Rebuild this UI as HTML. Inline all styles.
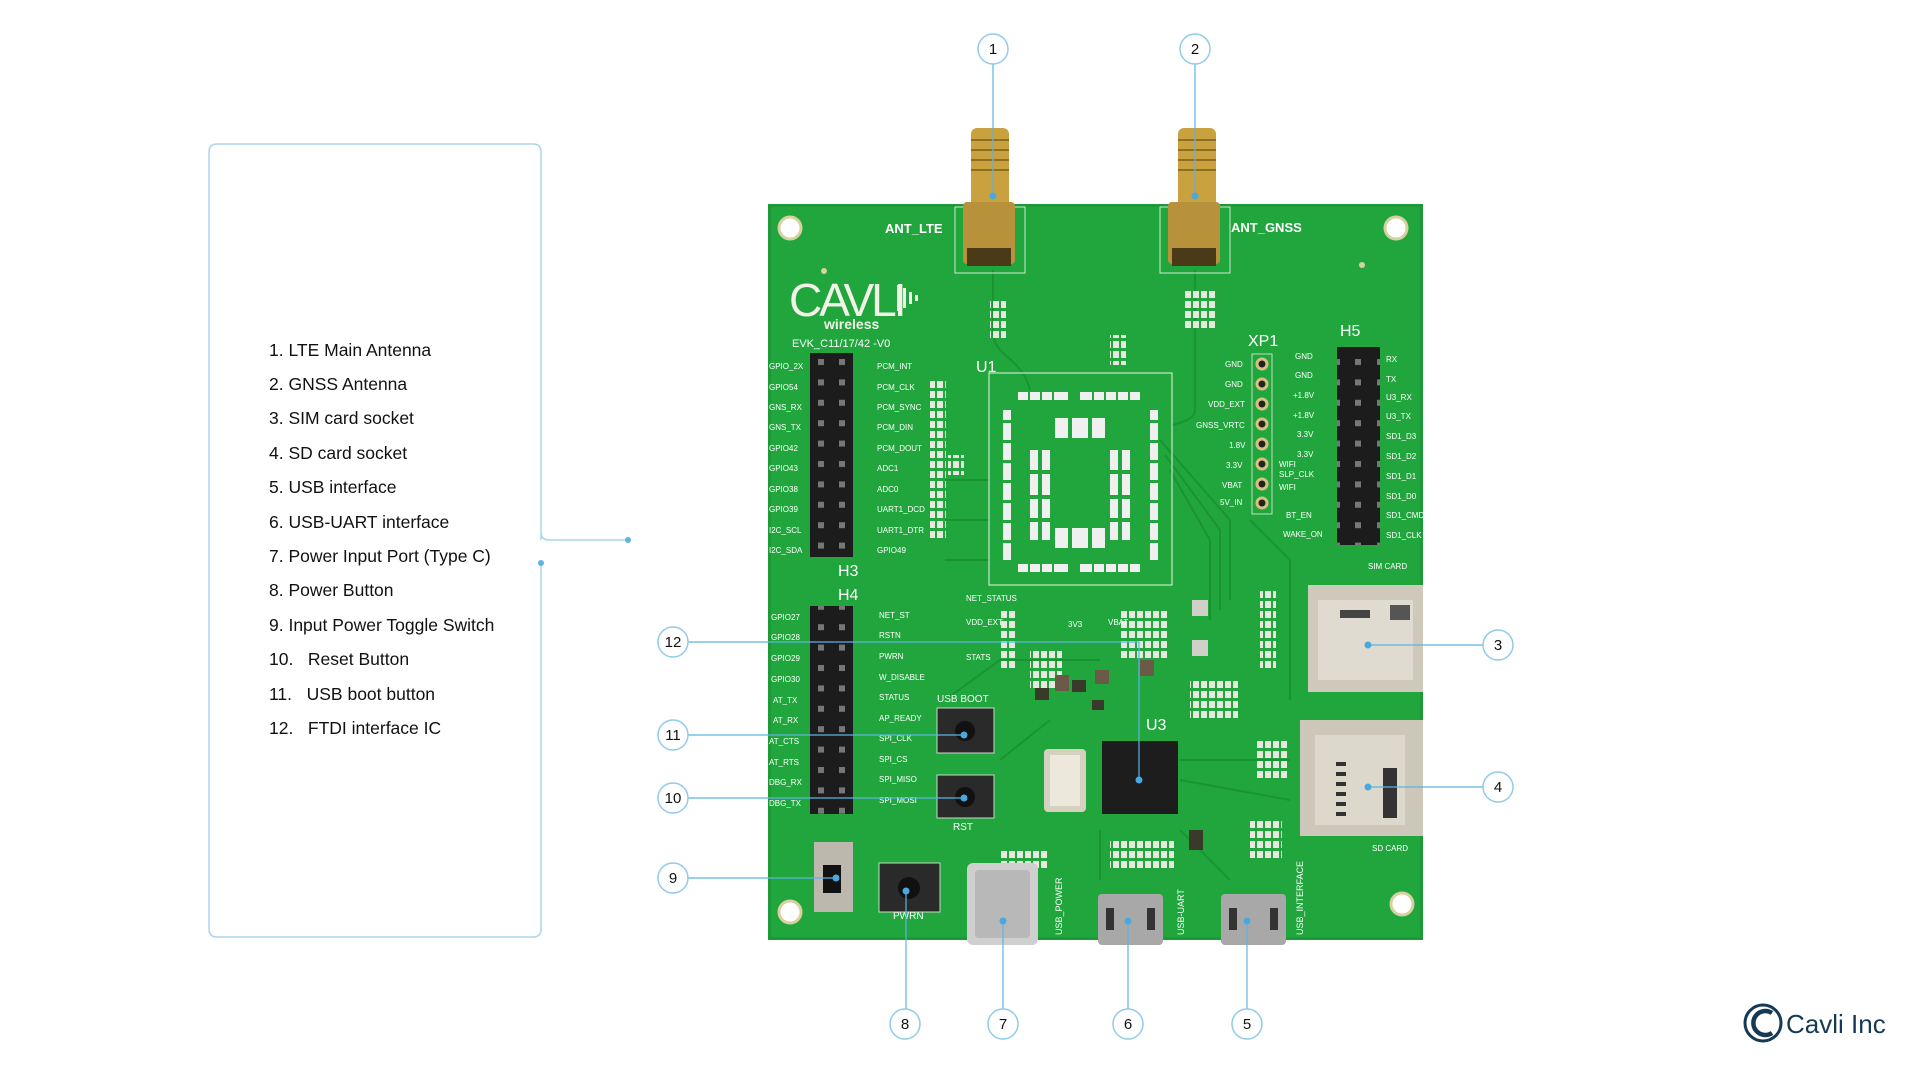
<!DOCTYPE html>
<html><head><meta charset="utf-8"><style>
html,body{margin:0;padding:0;background:#fff;width:1920px;height:1080px;overflow:hidden}
svg{display:block}
</style></head><body>
<svg width="1920" height="1080" viewBox="0 0 1920 1080" xmlns="http://www.w3.org/2000/svg" font-family="Liberation Sans, sans-serif">
<defs>
<pattern id="pins" x="810" y="353" width="43" height="20.4" patternUnits="userSpaceOnUse">
<rect width="43" height="20.4" fill="#1c1c1c"/><rect x="8" y="6" width="6" height="6" fill="#777"/><rect x="29" y="6" width="6" height="6" fill="#777"/>
</pattern>
<pattern id="pads" x="0" y="0" width="16" height="10" patternUnits="userSpaceOnUse">
<rect x="1" y="1" width="6" height="7" fill="#e8e8e0"/><rect x="9" y="1" width="6" height="7" fill="#e8e8e0"/>
</pattern>
</defs>
<!-- legend box -->
<path d="M541 540 L541 152 Q541 144 533 144 L217 144 Q209 144 209 152 L209 929 Q209 937 217 937 L533 937 Q541 937 541 929 L541 563" fill="none" stroke="#a9d5ee" stroke-width="1.5"/>
<path d="M541 532 Q541 540 549 540 L628 540" fill="none" stroke="#a9d5ee" stroke-width="1.5"/>
<circle cx="628" cy="540" r="3" fill="#5fb3e6"/>
<circle cx="541" cy="563" r="3" fill="#5fb3e6"/>
<g font-size="17.5" fill="#111">
<text x="269" y="356">1. LTE Main Antenna</text>
<text x="269" y="390">2. GNSS Antenna</text>
<text x="269" y="424">3. SIM card socket</text>
<text x="269" y="459">4. SD card socket</text>
<text x="269" y="493">5. USB interface</text>
<text x="269" y="528">6. USB-UART interface</text>
<text x="269" y="562">7. Power Input Port (Type C)</text>
<text x="269" y="596">8. Power Button</text>
<text x="269" y="631">9. Input Power Toggle Switch</text>
<text x="269" y="665">10.&#160;&#160;&#160;Reset Button</text>
<text x="269" y="700">11.&#160;&#160;&#160;USB boot button</text>
<text x="269" y="734">12.&#160;&#160;&#160;FTDI interface IC</text>
</g>

<!-- board -->
<rect x="768" y="204" width="655" height="736" fill="#1c9a37"/>
<rect x="771" y="207" width="649" height="730" fill="#21a63d"/>
<!-- traces -->
<g stroke="#1a9433" stroke-width="2" fill="none">
<path d="M993 270 V330 Q993 345 1005 355 Q1025 370 1030 390"/>
<path d="M1195 270 V410 Q1195 420 1172 425"/>
<path d="M1160 440 L1230 520 L1230 600"/><path d="M1165 455 L1220 530 L1220 610"/><path d="M1170 470 L1210 540 L1210 620"/>
<path d="M945 700 L1000 660 L1100 660"/><path d="M1000 760 L1050 720"/><path d="M1180 760 L1290 760"/><path d="M1180 780 L1290 800"/>
<path d="M945 560 L990 560"/><path d="M945 520 L990 520"/><path d="M945 480 L990 480"/>
<path d="M1250 520 L1290 560 L1290 700"/><path d="M1100 830 L1100 880"/><path d="M1180 830 L1230 880"/>
</g>
<g fill="#fff" stroke="#d8d0a0" stroke-width="3">
<circle cx="790" cy="228" r="11"/><circle cx="1396" cy="228" r="11"/>
<circle cx="790" cy="912" r="11"/><circle cx="1402" cy="904" r="11"/>
</g>
<circle cx="824" cy="271" r="3" fill="#d8d0a0"/><circle cx="1362" cy="265" r="3" fill="#d8d0a0"/>
<!-- antennas -->
<rect x="955" y="207" width="70" height="66" fill="none" stroke="#cfe8cf" stroke-width="1"/>
<rect x="1160" y="207" width="70" height="66" fill="none" stroke="#cfe8cf" stroke-width="1"/>
<rect x="971" y="128" width="38" height="80" rx="6" fill="#c9a23f"/>
<rect x="1178" y="128" width="38" height="80" rx="6" fill="#c9a23f"/>
<g stroke="#8f6e22" stroke-width="2">
<line x1="971" y1="140" x2="1009" y2="140"/><line x1="971" y1="150" x2="1009" y2="150"/><line x1="971" y1="160" x2="1009" y2="160"/><line x1="971" y1="170" x2="1009" y2="170"/>
<line x1="1178" y1="140" x2="1216" y2="140"/><line x1="1178" y1="150" x2="1216" y2="150"/><line x1="1178" y1="160" x2="1216" y2="160"/><line x1="1178" y1="170" x2="1216" y2="170"/>
</g>
<rect x="963" y="202" width="52" height="62" rx="4" fill="#b8923a"/>
<rect x="1168" y="202" width="52" height="62" rx="4" fill="#b8923a"/>
<rect x="967" y="248" width="44" height="18" fill="#4a3a18"/>
<rect x="1172" y="248" width="44" height="18" fill="#4a3a18"/>
<g fill="#fff" font-weight="bold" font-size="13">
<text x="885" y="233">ANT_LTE</text><text x="1231" y="232">ANT_GNSS</text>
</g>
<text x="789" y="316" fill="#f2f2e8" font-size="46" letter-spacing="-3">CAVLI</text>
<g fill="#f2f2e8"><rect x="897" y="285" width="3" height="26"/><rect x="903" y="288" width="3" height="20"/><rect x="909" y="292" width="3" height="12"/><rect x="915" y="295" width="3" height="6"/></g>
<text x="824" y="329" fill="#f2f2e8" font-size="14" font-weight="bold">wireless</text>
<text x="792" y="347" fill="#fff" font-size="11">EVK_C11/17/42 -V0</text>
<!-- headers -->
<rect x="810" y="353" width="43" height="204" fill="url(#pins)"/>
<rect x="810" y="606" width="43" height="208" fill="url(#pins)"/>
<rect x="1337" y="347" width="43" height="198" fill="url(#pins)"/>
<rect x="930" y="380" width="16" height="160" fill="url(#pads)"/>
<rect x="948" y="455" width="16" height="20" fill="url(#pads)"/>
<rect x="1110" y="335" width="16" height="30" fill="url(#pads)"/>
<rect x="1260" y="590" width="16" height="80" fill="url(#pads)"/>
<rect x="1000" y="610" width="16" height="60" fill="url(#pads)"/>
<rect x="1030" y="650" width="32" height="40" fill="url(#pads)"/>
<rect x="1120" y="610" width="48" height="50" fill="url(#pads)"/>
<rect x="1190" y="680" width="48" height="40" fill="url(#pads)"/>
<rect x="1000" y="850" width="48" height="20" fill="url(#pads)"/>
<rect x="1110" y="840" width="64" height="30" fill="url(#pads)"/>
<rect x="1250" y="820" width="32" height="40" fill="url(#pads)"/>
<rect x="1255" y="740" width="32" height="40" fill="url(#pads)"/>
<rect x="990" y="300" width="16" height="40" fill="url(#pads)"/>
<rect x="1183" y="290" width="32" height="40" fill="url(#pads)"/>
<g font-size="8" fill="#fff">
<text x="769" y="369">GPIO_2X</text><text x="769" y="390">GPIO54</text><text x="769" y="410">GNS_RX</text><text x="769" y="430">GNS_TX</text><text x="769" y="451">GPIO42</text><text x="769" y="471">GPIO43</text><text x="769" y="492">GPIO38</text><text x="769" y="512">GPIO39</text><text x="769" y="533">I2C_SCL</text><text x="769" y="553">I2C_SDA</text>
<text x="877" y="369">PCM_INT</text><text x="877" y="390">PCM_CLK</text><text x="877" y="410">PCM_SYNC</text><text x="877" y="430">PCM_DIN</text><text x="877" y="451">PCM_DOUT</text><text x="877" y="471">ADC1</text><text x="877" y="492">ADC0</text><text x="877" y="512">UART1_DCD</text><text x="877" y="533">UART1_DTR</text><text x="877" y="553">GPIO49</text>
<text x="771" y="620">GPIO27</text><text x="771" y="640">GPIO28</text><text x="771" y="661">GPIO29</text><text x="771" y="682">GPIO30</text><text x="773" y="703">AT_TX</text><text x="773" y="723">AT_RX</text><text x="769" y="744">AT_CTS</text><text x="769" y="765">AT_RTS</text><text x="769" y="785">DBG_RX</text><text x="769" y="806">DBG_TX</text>
<text x="879" y="618">NET_ST</text><text x="879" y="638">RSTN</text><text x="879" y="659">PWRN</text><text x="879" y="680">W_DISABLE</text><text x="879" y="700">STATUS</text><text x="879" y="721">AP_READY</text><text x="879" y="741">SPI_CLK</text><text x="879" y="762">SPI_CS</text><text x="879" y="782">SPI_MISO</text><text x="879" y="803">SPI_MOSI</text>
<text x="1225" y="367">GND</text><text x="1225" y="387">GND</text><text x="1208" y="407">VDD_EXT</text><text x="1196" y="428">GNSS_VRTC</text><text x="1229" y="448">1.8V</text><text x="1226" y="468">3.3V</text><text x="1222" y="488">VBAT</text><text x="1220" y="505">5V_IN</text>
<text x="1295" y="359">GND</text><text x="1295" y="378">GND</text><text x="1293" y="398">+1.8V</text><text x="1293" y="418">+1.8V</text><text x="1297" y="437">3.3V</text><text x="1297" y="457">3.3V</text><text x="1279" y="467">WIFI</text><text x="1279" y="477">SLP_CLK</text><text x="1279" y="490">WIFI</text><text x="1286" y="518">BT_EN</text><text x="1283" y="537">WAKE_ON</text>
<text x="1386" y="362">RX</text><text x="1386" y="382">TX</text><text x="1386" y="400">U3_RX</text><text x="1386" y="419">U3_TX</text><text x="1386" y="439">SD1_D3</text><text x="1386" y="459">SD1_D2</text><text x="1386" y="479">SD1_D1</text><text x="1386" y="499">SD1_D0</text><text x="1386" y="518">SD1_CMD</text><text x="1386" y="538">SD1_CLK</text>
<text x="1368" y="569">SIM CARD</text><text x="1372" y="851">SD CARD</text>
<text x="966" y="601">NET_STATUS</text><text x="966" y="625">VDD_EXT</text><text x="966" y="660">STATS</text><text x="1068" y="627">3V3</text><text x="1108" y="625">VBAT</text>
<text x="937" y="702" font-size="10">USB BOOT</text><text x="953" y="830" font-size="10">RST</text><text x="893" y="919" font-size="10">PWRN</text>
</g>
<g fill="#fff" font-size="16"><text x="838" y="576">H3</text><text x="838" y="600">H4</text><text x="976" y="372">U1</text><text x="1248" y="346">XP1</text><text x="1340" y="336">H5</text><text x="1146" y="730">U3</text></g>
<!-- U1 -->
<rect x="989" y="373" width="183" height="212" fill="none" stroke="#c9e7c9" stroke-width="1.2"/>
<g fill="#f0f0f0">
<rect x="1018" y="392" width="50" height="8"/><rect x="1080" y="392" width="60" height="8"/>
<rect x="1018" y="564" width="50" height="8"/><rect x="1080" y="564" width="60" height="8"/>
<rect x="1003" y="410" width="8" height="150"/><rect x="1150" y="410" width="8" height="150"/>
<rect x="1055" y="418" width="50" height="20"/><rect x="1030" y="450" width="20" height="90"/><rect x="1110" y="450" width="20" height="90"/><rect x="1055" y="528" width="50" height="20"/>
</g>
<g fill="#21a63d">
<rect x="1028" y="392" width="2" height="8"/><rect x="1040" y="392" width="2" height="8"/><rect x="1052" y="392" width="2" height="8"/><rect x="1092" y="392" width="2" height="8"/><rect x="1104" y="392" width="2" height="8"/><rect x="1116" y="392" width="2" height="8"/><rect x="1128" y="392" width="2" height="8"/>
<rect x="1028" y="564" width="2" height="8"/><rect x="1040" y="564" width="2" height="8"/><rect x="1052" y="564" width="2" height="8"/><rect x="1092" y="564" width="2" height="8"/><rect x="1104" y="564" width="2" height="8"/><rect x="1116" y="564" width="2" height="8"/><rect x="1128" y="564" width="2" height="8"/>
<rect x="1003" y="420" width="8" height="3"/><rect x="1003" y="440" width="8" height="3"/><rect x="1003" y="460" width="8" height="3"/><rect x="1003" y="480" width="8" height="3"/><rect x="1003" y="500" width="8" height="3"/><rect x="1003" y="520" width="8" height="3"/><rect x="1003" y="540" width="8" height="3"/>
<rect x="1150" y="420" width="8" height="3"/><rect x="1150" y="440" width="8" height="3"/><rect x="1150" y="460" width="8" height="3"/><rect x="1150" y="480" width="8" height="3"/><rect x="1150" y="500" width="8" height="3"/><rect x="1150" y="520" width="8" height="3"/><rect x="1150" y="540" width="8" height="3"/>
<rect x="1030" y="470" width="20" height="4"/><rect x="1030" y="495" width="20" height="4"/><rect x="1030" y="518" width="20" height="4"/><rect x="1110" y="470" width="20" height="4"/><rect x="1110" y="495" width="20" height="4"/><rect x="1110" y="518" width="20" height="4"/>
<rect x="1038" y="450" width="4" height="90"/><rect x="1118" y="450" width="4" height="90"/><rect x="1068" y="418" width="4" height="20"/><rect x="1088" y="418" width="4" height="20"/><rect x="1068" y="528" width="4" height="20"/><rect x="1088" y="528" width="4" height="20"/>
</g>
<!-- XP1 holes -->
<g fill="#222" stroke="#d8c080" stroke-width="3">
<circle cx="1262" cy="364" r="5"/><circle cx="1262" cy="384" r="5"/><circle cx="1262" cy="404" r="5"/><circle cx="1262" cy="424" r="5"/><circle cx="1262" cy="444" r="5"/><circle cx="1262" cy="464" r="5"/><circle cx="1262" cy="484" r="5"/><circle cx="1262" cy="503" r="5"/>
</g>
<rect x="1252" y="354" width="20" height="160" fill="none" stroke="#bfe0bf" stroke-width="1"/>
<!-- sockets -->
<rect x="1308" y="585" width="115" height="107" fill="#cfc9bc"/>
<rect x="1318" y="600" width="95" height="80" fill="#e0dbd0"/>
<rect x="1340" y="610" width="30" height="8" fill="#444"/><rect x="1390" y="605" width="20" height="15" fill="#555"/>
<rect x="1300" y="720" width="123" height="116" fill="#cdc7ba"/>
<rect x="1315" y="735" width="90" height="90" fill="#ddd8cc"/>
<rect x="1383" y="768" width="14" height="50" fill="#333"/>
<g fill="#333"><rect x="1336" y="762" width="10" height="4"/><rect x="1336" y="772" width="10" height="4"/><rect x="1336" y="782" width="10" height="4"/><rect x="1336" y="792" width="10" height="4"/><rect x="1336" y="802" width="10" height="4"/><rect x="1336" y="812" width="10" height="4"/></g>
<!-- chips -->
<rect x="1102" y="741" width="76" height="73" fill="#1d1d1d"/>
<rect x="1044" y="749" width="42" height="63" rx="4" fill="#d6d0bf"/>
<rect x="1050" y="755" width="30" height="51" fill="#ece8dc"/>
<g fill="#3a3a2a"><rect x="1035" y="688" width="14" height="12"/><rect x="1072" y="680" width="14" height="12"/><rect x="1092" y="700" width="12" height="10"/><rect x="1189" y="830" width="14" height="20"/><rect x="1055" y="675" width="14" height="16" fill="#6b5a48"/><rect x="1095" y="670" width="14" height="14" fill="#6b5a48"/><rect x="1140" y="660" width="14" height="16" fill="#6b5a48"/><rect x="1192" y="600" width="16" height="16" fill="#d0d0c8"/><rect x="1192" y="640" width="16" height="16" fill="#d0d0c8"/></g>
<!-- buttons -->
<g fill="#2a2a2a" stroke="#c8d8c8" stroke-width="1">
<rect x="937" y="708" width="57" height="45"/><rect x="937" y="775" width="57" height="43"/><rect x="879" y="863" width="61" height="49"/>
</g>
<g fill="#111"><circle cx="965" cy="731" r="10"/><circle cx="965" cy="797" r="10"/><circle cx="909" cy="888" r="11"/></g>
<rect x="814" y="842" width="39" height="70" fill="#bdb8ad"/>
<rect x="823" y="865" width="18" height="28" fill="#111"/>
<!-- usb -->
<rect x="967" y="863" width="71" height="82" rx="6" fill="#cfcfcf"/>
<rect x="975" y="870" width="55" height="68" rx="4" fill="#b8b8b8"/>
<rect x="1098" y="894" width="65" height="51" rx="4" fill="#a8a8a8"/>
<rect x="1221" y="894" width="65" height="51" rx="4" fill="#a8a8a8"/>
<g fill="#333"><rect x="1106" y="908" width="8" height="22"/><rect x="1147" y="908" width="8" height="22"/><rect x="1229" y="908" width="8" height="22"/><rect x="1270" y="908" width="8" height="22"/></g>
<g font-size="9" fill="#fff"><text transform="translate(1062,935) rotate(-90)">USB_POWER</text><text transform="translate(1184,935) rotate(-90)">USB-UART</text><text transform="translate(1303,935) rotate(-90)">USB_INTERFACE</text></g>

<!-- callout lines -->
<g stroke="#5cb3e4" stroke-width="1.2" fill="none">
<line x1="993" y1="64" x2="993" y2="196"/>
<line x1="1195" y1="64" x2="1195" y2="196"/>
<line x1="1483" y1="645" x2="1368" y2="645"/>
<line x1="1483" y1="787" x2="1368" y2="787"/>
<line x1="1247" y1="1009" x2="1247" y2="921"/>
<line x1="1128" y1="1009" x2="1128" y2="921"/>
<line x1="1003" y1="1009" x2="1003" y2="921"/>
<line x1="906" y1="1009" x2="906" y2="891"/>
<line x1="688" y1="878" x2="836" y2="878"/>
<line x1="688" y1="798" x2="964" y2="798"/>
<line x1="688" y1="735" x2="964" y2="735"/>
<polyline points="688,642 1139,642 1139,780"/>
</g>
<g fill="#4aa8e0">
<circle cx="993" cy="196" r="3.5"/><circle cx="1195" cy="196" r="3.5"/><circle cx="1368" cy="645" r="3.5"/><circle cx="1368" cy="787" r="3.5"/>
<circle cx="1247" cy="921" r="3.5"/><circle cx="1128" cy="921" r="3.5"/><circle cx="1003" cy="921" r="3.5"/><circle cx="906" cy="891" r="3.5"/>
<circle cx="836" cy="878" r="3.5"/><circle cx="964" cy="798" r="3.5"/><circle cx="964" cy="735" r="3.5"/><circle cx="1139" cy="780" r="3.5"/>
</g>
<g fill="#fff" stroke="#8fcbeb" stroke-width="1.5">
<circle cx="993" cy="49" r="15"/><circle cx="1195" cy="49" r="15"/><circle cx="1498" cy="645" r="15"/><circle cx="1498" cy="787" r="15"/>
<circle cx="1247" cy="1024" r="15"/><circle cx="1128" cy="1024" r="15"/><circle cx="1003" cy="1024" r="15"/><circle cx="905" cy="1024" r="15"/>
<circle cx="673" cy="878" r="15"/><circle cx="673" cy="798" r="15"/><circle cx="673" cy="735" r="15"/><circle cx="673" cy="642" r="15"/>
</g>
<g font-size="15" fill="#111" text-anchor="middle">
<text x="993" y="54">1</text><text x="1195" y="54">2</text><text x="1498" y="650">3</text><text x="1498" y="792">4</text>
<text x="1247" y="1029">5</text><text x="1128" y="1029">6</text><text x="1003" y="1029">7</text><text x="905" y="1029">8</text>
<text x="673" y="883">9</text><text x="673" y="803">10</text><text x="673" y="740">11</text><text x="673" y="647">12</text>
</g>
<!-- Cavli Inc logo -->
<circle cx="1763" cy="1023" r="18" fill="none" stroke="#163a55" stroke-width="3"/>
<path d="M1772 1013 A12 12 0 1 0 1772 1033" fill="none" stroke="#163a55" stroke-width="4.5"/>
<text x="1786" y="1033" font-size="26" fill="#163a55">Cavli Inc</text>
</svg>
</body></html>
